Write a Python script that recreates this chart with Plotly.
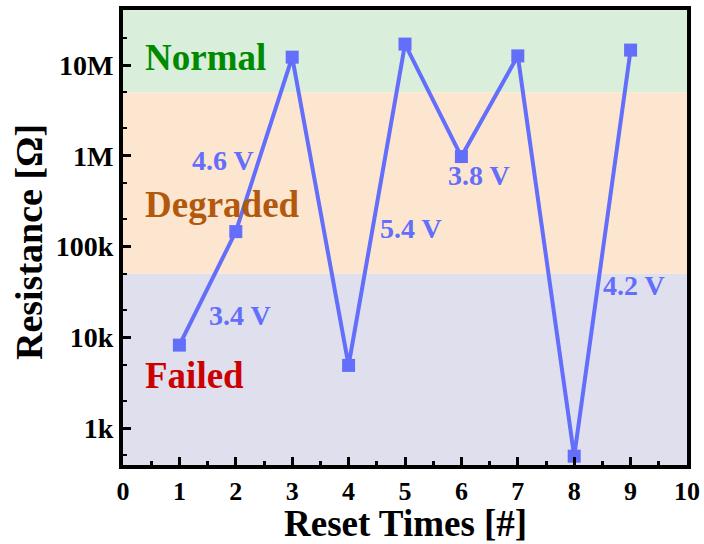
import math
import plotly.graph_objects as go

reset_times = [1, 2, 3, 4, 5, 6, 7, 8, 9]
resistance = [8.2e3, 1.46e5, 1.22e7, 4.9e3, 1.7e7, 0.98e6, 1.26e7, 4.9e2, 1.46e7]

y_tickvals = [1e3, 1e4, 1e5, 1e6, 1e7]
y_ticktext = ["1k", "10k", "100k", "1M", "10M"]

band_names = ["Normal", "Degraded", "Failed"]
band_low = [5e6, 5e4, 1e2]
band_high = [1e9, 5e6, 5e4]
band_fill = ["#d9eedb", "#fde6cf", "#dfdfee"]
band_text_color = ["#008a00", "#b3590d", "#cc0000"]
band_label_y = [1.2e7, 2.94e5, 3.77e3]
band_label_x = [0.36, 0.36, 0.36]

volt_labels = ["3.4 V", "4.6 V", "5.4 V", "3.8 V", "4.2 V"]
volt_x = [2.07, 1.78, 5.10, 6.32, 9.06]
volt_y = [1.75e4, 8.8e5, 1.58e5, 6.1e5, 3.74e4]

FONT = "Liberation Serif, Times New Roman, serif"
BLUE = "#636efa"

fig = go.Figure()

for lo, hi, c in zip(band_low, band_high, band_fill):
    fig.add_shape(type="rect", xref="paper", x0=0, x1=1, yref="y", y0=lo, y1=hi,
                  fillcolor=c, line_width=0, layer="below")

fig.add_trace(go.Scatter(
    x=reset_times, y=resistance, mode="lines+markers",
    line=dict(color=BLUE, width=4),
    marker=dict(symbol="square", size=13, color=BLUE),
    showlegend=False,
))

for name, x, y, c in zip(band_names, band_label_x, band_label_y, band_text_color):
    fig.add_annotation(x=x, y=math.log10(y), text="<b>%s</b>" % name, showarrow=False,
                       xanchor="left", yanchor="middle",
                       font=dict(family=FONT, size=37, color=c))

for t, x, y in zip(volt_labels, volt_x, volt_y):
    fig.add_annotation(x=x, y=math.log10(y), text="<b>%s</b>" % t, showarrow=False,
                       xanchor="center", yanchor="middle",
                       font=dict(family=FONT, size=28, color=BLUE))

# axis titles
fig.add_annotation(xref="paper", yref="paper", x=0.5, y=-0.128, text="<b>Reset Times [#]</b>",
                   showarrow=False, xanchor="center", yanchor="middle",
                   font=dict(family=FONT, size=37, color="black"))
fig.add_annotation(xref="paper", yref="paper", x=(29 - 123) / 564, y=0.49, text="<b>Resistance [Ω]</b>",
                   showarrow=False, xanchor="center", yanchor="middle", textangle=-90,
                   font=dict(family=FONT, size=38, color="black"))

fig.update_layout(
    width=704, height=544,
    margin=dict(l=123, r=17, t=10, b=79),
    paper_bgcolor="white", plot_bgcolor="white",
    font=dict(family=FONT, size=28, color="black"),
)

fig.update_xaxes(
    range=[0, 10], tick0=0, dtick=1, automargin=False,
    showgrid=False, zeroline=False,
    showline=True, linewidth=4, linecolor="black", mirror=True,
    ticks="inside", ticklen=8, tickwidth=3, tickcolor="black",
    minor=dict(ticks="inside", dtick=0.5, ticklen=4, tickwidth=3, tickcolor="black", showgrid=False),
    tickfont=dict(family=FONT, size=26, color="black", weight="bold"),
)

fig.update_yaxes(
    type="log", range=[2.593, 7.606], automargin=False,
    tickvals=y_tickvals, ticktext=y_ticktext,
    showgrid=False, zeroline=False,
    showline=True, linewidth=4, linecolor="black", mirror=True,
    ticks="inside", ticklen=8, tickwidth=3, tickcolor="black",
    minor=dict(ticks="inside", ticklen=4, tickwidth=2, tickcolor="black", showgrid=False),
    tickfont=dict(family=FONT, size=28, color="black", weight="bold"),
)

fig.write_html("out.html", config={"displayModeBar": False})

# remove the default page margin so the figure sits at the window's top-left corner
with open("out.html", "r", encoding="utf-8") as f:
    html = f.read()
html = html.replace("<head>", "<head><style>html,body{margin:0;padding:0;overflow:hidden;}</style>", 1)
with open("out.html", "w", encoding="utf-8") as f:
    f.write(html)
